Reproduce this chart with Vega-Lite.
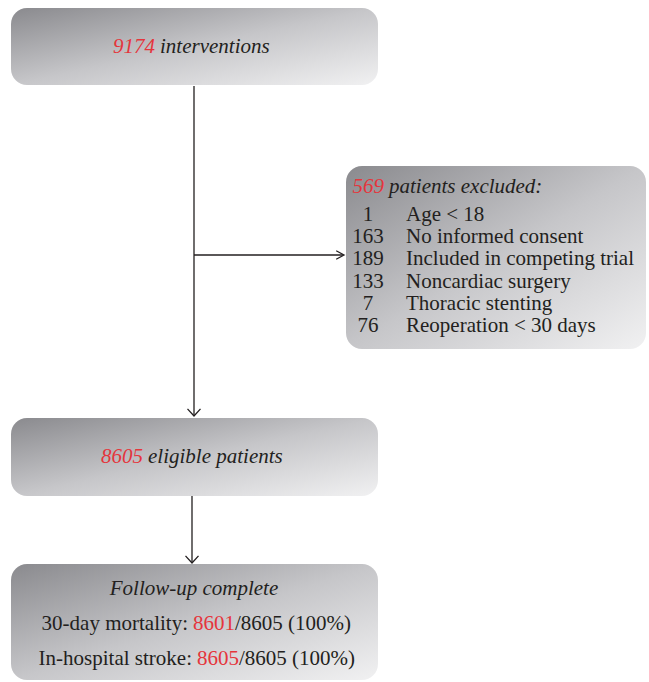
{
  "$schema": "https://vega.github.io/schema/vega-lite/v6.json",
  "autosize": {"type": "fit", "contains": "padding"},
  "width": 649,
  "height": 682,
  "padding": 0,
  "background": "white",
  "view": {"stroke": null},
  "config": {"text": {"font": "Liberation Serif", "fontSize": 21, "baseline": "alphabetic"}},
  "datasets": {
    "boxes": [
      {"box": "start", "x1": 11, "x2": 378, "y1": 8, "y2": 85},
      {"box": "excluded", "x1": 346, "x2": 646, "y1": 166, "y2": 349},
      {"box": "eligible", "x1": 11, "x2": 378, "y1": 418, "y2": 496},
      {"box": "followup", "x1": 11, "x2": 378, "y1": 564, "y2": 680}
    ],
    "links": [
      {"x1": 194, "y1": 86, "x2": 194, "y2": 415},
      {"x1": 194, "y1": 255, "x2": 343, "y2": 255},
      {"x1": 192, "y1": 496, "x2": 192, "y2": 562}
    ],
    "heads": [
      {"x": 194, "y": 416, "dir": "down"},
      {"x": 344, "y": 255, "dir": "right"},
      {"x": 192, "y": 563, "dir": "down"}
    ],
    "texts": [
      {"text": "9174", "x": 155, "y": 53, "anchor": "right", "kind": "count", "italic": true},
      {"text": "interventions", "x": 160, "y": 53, "anchor": "left", "kind": "label", "italic": true},
      {"text": "569", "x": 384, "y": 193, "anchor": "right", "kind": "count", "italic": true},
      {"text": "patients excluded:", "x": 389, "y": 193, "anchor": "left", "kind": "label", "italic": true},
      {"text": "1", "x": 368, "y": 221, "anchor": "center", "kind": "label", "italic": false},
      {"text": "163", "x": 368, "y": 243, "anchor": "center", "kind": "label", "italic": false},
      {"text": "189", "x": 368, "y": 265, "anchor": "center", "kind": "label", "italic": false},
      {"text": "133", "x": 368, "y": 288, "anchor": "center", "kind": "label", "italic": false},
      {"text": "7", "x": 368, "y": 310, "anchor": "center", "kind": "label", "italic": false},
      {"text": "76", "x": 368, "y": 332, "anchor": "center", "kind": "label", "italic": false},
      {"text": "Age < 18", "x": 406, "y": 221, "anchor": "left", "kind": "label", "italic": false},
      {"text": "No informed consent", "x": 406, "y": 243, "anchor": "left", "kind": "label", "italic": false},
      {"text": "Included in competing trial", "x": 406, "y": 265, "anchor": "left", "kind": "label", "italic": false},
      {"text": "Noncardiac surgery", "x": 406, "y": 288, "anchor": "left", "kind": "label", "italic": false},
      {"text": "Thoracic stenting", "x": 406, "y": 310, "anchor": "left", "kind": "label", "italic": false},
      {"text": "Reoperation < 30 days", "x": 406, "y": 332, "anchor": "left", "kind": "label", "italic": false},
      {"text": "8605", "x": 143, "y": 463, "anchor": "right", "kind": "count", "italic": true},
      {"text": "eligible patients", "x": 148, "y": 463, "anchor": "left", "kind": "label", "italic": true},
      {"text": "Follow-up complete", "x": 194, "y": 595, "anchor": "center", "kind": "label", "italic": true},
      {"text": "30-day mortality:", "x": 188, "y": 630, "anchor": "right", "kind": "label", "italic": false},
      {"text": "8601", "x": 193, "y": 630, "anchor": "left", "kind": "count", "italic": false},
      {"text": "/8605 (100%)", "x": 235, "y": 630, "anchor": "left", "kind": "label", "italic": false},
      {"text": "In-hospital stroke:", "x": 192, "y": 665, "anchor": "right", "kind": "label", "italic": false},
      {"text": "8605", "x": 197, "y": 665, "anchor": "left", "kind": "count", "italic": false},
      {"text": "/8605 (100%)", "x": 239, "y": 665, "anchor": "left", "kind": "label", "italic": false}
    ]
  },
  "layer": [
    {
      "data": {"name": "boxes"},
      "mark": {
        "type": "rect",
        "cornerRadius": 16,
        "fill": {
          "gradient": "linear",
          "x1": 0, "y1": 0, "x2": 1, "y2": 1,
          "stops": [
            {"offset": 0, "color": "#8a8a8e"},
            {"offset": 0.5, "color": "#c6c6c9"},
            {"offset": 1, "color": "#f1f1f2"}
          ]
        }
      },
      "encoding": {
        "x": {"field": "x1", "type": "quantitative", "scale": {"domain": [0, 649], "nice": false, "zero": false}, "axis": null},
        "x2": {"field": "x2"},
        "y": {"field": "y1", "type": "quantitative", "scale": {"domain": [0, 682], "nice": false, "zero": false, "reverse": true}, "axis": null},
        "y2": {"field": "y2"}
      }
    },
    {
      "data": {"name": "links"},
      "mark": {"type": "rule", "color": "#231f20", "strokeWidth": 1.3},
      "encoding": {
        "x": {"field": "x1", "type": "quantitative"},
        "x2": {"field": "x2"},
        "y": {"field": "y1", "type": "quantitative"},
        "y2": {"field": "y2"}
      }
    },
    {
      "data": {"name": "heads"},
      "mark": {"type": "point", "filled": false, "color": "#231f20", "strokeWidth": 1.3, "opacity": 1, "size": 169},
      "encoding": {
        "x": {"field": "x", "type": "quantitative"},
        "y": {"field": "y", "type": "quantitative"},
        "shape": {"field": "dir", "type": "nominal", "scale": {"domain": ["right", "down"], "range": ["M-1.2,-0.65L0,0L-1.2,0.65", "M-1,-1.1L0,0L1,-1.1"]}, "legend": null}
      }
    },
    {
      "data": {"name": "texts"},
      "transform": [{"filter": "datum.italic && datum.anchor === 'left'"}],
      "mark": {"type": "text", "align": "left", "fontStyle": "italic"},
      "encoding": {
        "x": {"field": "x", "type": "quantitative"},
        "y": {"field": "y", "type": "quantitative"},
        "text": {"field": "text"},
        "color": {"field": "kind", "type": "nominal", "scale": {"domain": ["count", "label"], "range": ["#e5353c", "#231f20"]}, "legend": null}
      }
    },
    {
      "data": {"name": "texts"},
      "transform": [{"filter": "datum.italic && datum.anchor === 'right'"}],
      "mark": {"type": "text", "align": "right", "fontStyle": "italic"},
      "encoding": {
        "x": {"field": "x", "type": "quantitative"},
        "y": {"field": "y", "type": "quantitative"},
        "text": {"field": "text"},
        "color": {"field": "kind", "type": "nominal", "legend": null}
      }
    },
    {
      "data": {"name": "texts"},
      "transform": [{"filter": "datum.italic && datum.anchor === 'center'"}],
      "mark": {"type": "text", "align": "center", "fontStyle": "italic"},
      "encoding": {
        "x": {"field": "x", "type": "quantitative"},
        "y": {"field": "y", "type": "quantitative"},
        "text": {"field": "text"},
        "color": {"field": "kind", "type": "nominal", "legend": null}
      }
    },
    {
      "data": {"name": "texts"},
      "transform": [{"filter": "!datum.italic && datum.anchor === 'left'"}],
      "mark": {"type": "text", "align": "left"},
      "encoding": {
        "x": {"field": "x", "type": "quantitative"},
        "y": {"field": "y", "type": "quantitative"},
        "text": {"field": "text"},
        "color": {"field": "kind", "type": "nominal", "legend": null}
      }
    },
    {
      "data": {"name": "texts"},
      "transform": [{"filter": "!datum.italic && datum.anchor === 'right'"}],
      "mark": {"type": "text", "align": "right"},
      "encoding": {
        "x": {"field": "x", "type": "quantitative"},
        "y": {"field": "y", "type": "quantitative"},
        "text": {"field": "text"},
        "color": {"field": "kind", "type": "nominal", "legend": null}
      }
    },
    {
      "data": {"name": "texts"},
      "transform": [{"filter": "!datum.italic && datum.anchor === 'center'"}],
      "mark": {"type": "text", "align": "center"},
      "encoding": {
        "x": {"field": "x", "type": "quantitative"},
        "y": {"field": "y", "type": "quantitative"},
        "text": {"field": "text"},
        "color": {"field": "kind", "type": "nominal", "legend": null}
      }
    }
  ]
}
